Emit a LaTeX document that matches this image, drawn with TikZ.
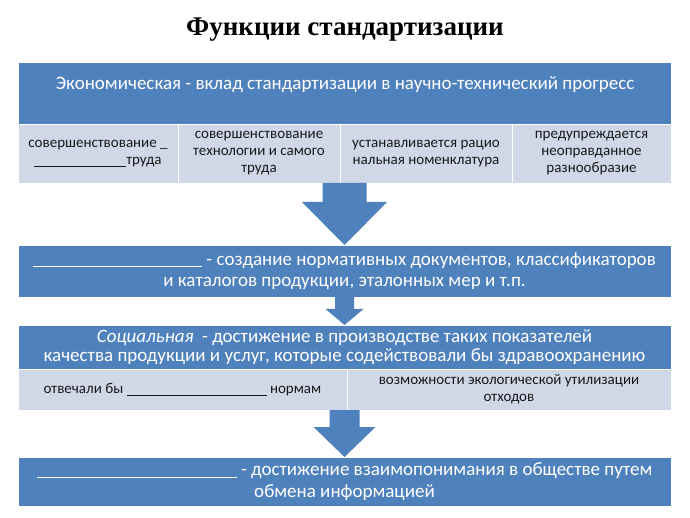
\documentclass[tikz,border=0pt]{standalone}
\usepackage{fontspec}
\usepackage{tikz}
\usetikzlibrary{calc}
\setmainfont{Carlito}
\newfontfamily\titlefont{Liberation Serif}
\definecolor{boxblue}{HTML}{4F81BD}
\definecolor{cellblue}{HTML}{D0D8E8}
\newcommand{\lineblank}[1]{\rule[-2pt]{#1pt}{0.7pt}}
\begin{document}
\begin{tikzpicture}[x=1pt,y=1pt]
	\tikzstyle{darkbox}=[rectangle,fill=boxblue,draw=white,line width=0.8pt,text=white,align=center,inner sep=2pt,outer sep=0pt,minimum width=653pt,font=\fontsize{19}{21.5}\selectfont]
	\tikzstyle{cell}=[rectangle,fill=cellblue,draw=white,line width=0.8pt,text=black!90,align=center,inner sep=2pt,outer sep=0pt,font=\fontsize{15}{17}\selectfont]
	\tikzstyle{bigarrow}=[fill=boxblue]
	\useasboundingbox (0,0) rectangle (690,517);
	\fill[white] (0,0) rectangle (690,517);
	% title
	\node[font=\titlefont\bfseries\fontsize{27}{30}\selectfont](title) at (345,487) {Функции стандартизации};
	% economic
	\node[darkbox,minimum height=62pt](eco) at (344.5,423.5) {};
	\node[text=white,font=\fontsize{19}{21.5}\selectfont](ecotext) at (345,432) {Экономическая - вклад стандартизации в научно-технический прогресс};
	\node[cell,minimum width=160pt,minimum height=59pt](c1) at (98,363.5) {совершенствование \_\\ \lineblank{92}труда};
	\node[cell,minimum width=162pt,minimum height=59pt](c2) at (259,363.5) {совершенствование\\ технологии и самого\\ труда};
	\node[cell,minimum width=172pt,minimum height=59pt](c3) at (426,363.5) {устанавливается рацио\\ нальная номенклатура};
	\node[cell,minimum width=159pt,minimum height=59pt](c4) at (591.5,363.5) {предупреждается\\ неоправданное\\ разнообразие};
	% information
	\node[darkbox,minimum height=52pt](info) at (344.5,246) {\lineblank{169} - создание нормативных документов, классификаторов\\ и каталогов продукции, эталонных мер и т.п.};
	% social
	\node[darkbox,minimum height=44pt,font=\fontsize{19}{18.5}\selectfont](soc) at (344.5,170) {\textit{Социальная}~ - достижение в производстве таких показателей\\ качества продукции и услуг, которые содействовали бы здравоохранению};
	\node[cell,minimum width=329pt,minimum height=41pt](s1) at (182.5,127.5) {отвечали бы \lineblank{140} нормам};
	\node[cell,minimum width=324pt,minimum height=41pt](s2) at (509,127.5) {возможности экологической утилизации\\ отходов};
	% communicative
	\node[darkbox,minimum height=49pt](comm) at (344.5,35.5) {\lineblank{200} - достижение взаимопонимания в обществе путем\\ обмена информацией};
	% arrows
	\fill[bigarrow] ($(info.north |- c3.south)+(-22,0)$) -- ($(info.north |- c3.south)+(22,0)$) -- ($(info.north)+(22,43)$) -- ($(info.north)+(42.5,43)$) -- (info.north) -- ($(info.north)+(-42.5,43)$) -- ($(info.north)+(-22,43)$) -- cycle;
	\fill[bigarrow] ($(soc.north |- info.south)+(-9.5,0)$) -- ($(soc.north |- info.south)+(9.5,0)$) -- ($(soc.north)+(9.5,16)$) -- ($(soc.north)+(19,16)$) -- (soc.north) -- ($(soc.north)+(-19,16)$) -- ($(soc.north)+(-9.5,16)$) -- cycle;
	\fill[bigarrow] ($(comm.north |- s1.south)+(-15,0)$) -- ($(comm.north |- s1.south)+(15,0)$) -- ($(comm.north)+(15,30)$) -- ($(comm.north)+(31,30)$) -- (comm.north) -- ($(comm.north)+(-31,30)$) -- ($(comm.north)+(-15,30)$) -- cycle;
\end{tikzpicture}
\end{document}
